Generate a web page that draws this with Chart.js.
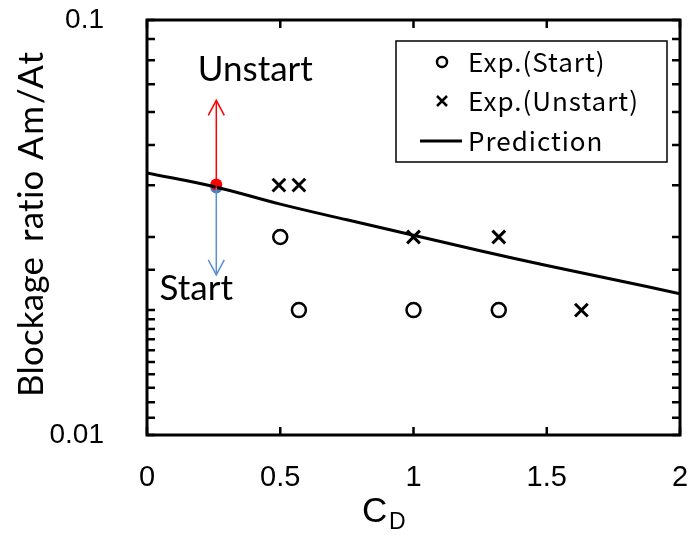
<!DOCTYPE html>
<html lang="en">
<head>
  <meta charset="UTF-8">
  <title>Blockage ratio vs CD</title>
  <style>
    body { margin: 0; padding: 0; background: #fff; }
    #wrap { width: 693px; height: 535px; }
  </style>
</head>
<body>
  <div id="wrap"><canvas id="myChart" width="693" height="535"></canvas></div>
  <script src="https://cdn.jsdelivr.net/npm/chart.js"></script>
  <script>
    // data
    var cdStart = [0.5, 0.57, 1.0, 1.32];
    var ratioStart = [0.03, 0.02, 0.02, 0.02];
    var cdUnstart = [0.495, 0.57, 1.0, 1.32, 1.63];
    var ratioUnstart = [0.04, 0.04, 0.03, 0.03, 0.02];
    var cdPred = [0, 0.25, 0.5, 0.75, 1, 1.25, 1.5, 1.75, 2];
    var ratioPred = [0.0428, 0.0397, 0.0360, 0.0330, 0.0303, 0.0278, 0.0256, 0.0237, 0.0219];
    var boundaryCd = [0.26];
    var boundaryRatio = [0.0395];
    var arrowUnstartTop = [0.064];
    var arrowStartBottom = [0.0243];
    var xTicks = [0, 0.5, 1, 1.5, 2];
    var legendLabels = ['Exp.(Start)', 'Exp.(Unstart)', 'Prediction'];
    var yTitleWords = ['Blockage', 'ratio', 'Am/At'];

    function pts(xs, ys) {
      return xs.map(function(x, i) { return { x: x, y: ys[i] }; });
    }

    var blue = '#4a7ebb';
    var arrowBlue = '#5b8fd0';
    var red = '#ff0000';

    var decorations = {
      id: 'decorations',
      afterDatasetsDraw: function(chart) {
        var c = chart.ctx, a = chart.chartArea;
        var xs = chart.scales.x, ys = chart.scales.y;
        c.save();
        // arrow heads
        function head(px, py, dir, color) {
          c.strokeStyle = color;
          c.lineWidth = 1.5;
          c.beginPath();
          c.moveTo(px - 8, py - dir * 15);
          c.lineTo(px, py);
          c.lineTo(px + 8, py - dir * 15);
          c.stroke();
        }
        var bx = xs.getPixelForValue(boundaryCd[0]);
        var topY = ys.getPixelForValue(arrowUnstartTop[0]);
        var botY = ys.getPixelForValue(arrowStartBottom[0]);
        head(bx, topY, -1, red);
        head(bx, botY, 1, arrowBlue);

        // annotation texts
        c.fillStyle = '#000';
        c.font = '35px Lato, "Open Sans", sans-serif';
        c.textAlign = 'center';
        c.textBaseline = 'alphabetic';
        c.fillText('Unstart', bx + 39, topY - 19);
        c.fillText('Start', bx - 20, botY + 25);

        // frame
        c.strokeStyle = '#000';
        c.lineWidth = 3;
        c.strokeRect(a.left, a.top, a.right - a.left, a.bottom - a.top);

        // inside ticks
        c.lineWidth = 2.5;
        c.beginPath();
        ys.ticks.forEach(function(t) {
          var py = ys.getPixelForValue(t.value);
          c.moveTo(a.left, py); c.lineTo(a.left + 8, py);
          c.moveTo(a.right, py); c.lineTo(a.right - 8, py);
        });
        xTicks.forEach(function(v) {
          var px = xs.getPixelForValue(v);
          c.moveTo(px, a.bottom); c.lineTo(px, a.bottom - 8);
          c.moveTo(px, a.top); c.lineTo(px, a.top + 8);
        });
        c.stroke();

        // legend
        var lx = 396, ly = 41, lw = 271, lh = 121;
        c.fillStyle = '#fff';
        c.fillRect(lx, ly, lw, lh);
        c.lineWidth = 1.5;
        c.strokeRect(lx, ly, lw, lh);
        var rows = [62, 101, 141];
        c.lineWidth = 2.5;
        c.beginPath();
        c.arc(442, rows[0], 5, 0, Math.PI * 2);
        c.stroke();
        c.beginPath();
        c.moveTo(437, rows[1] - 5); c.lineTo(447, rows[1] + 5);
        c.moveTo(447, rows[1] - 5); c.lineTo(437, rows[1] + 5);
        c.stroke();
        c.lineWidth = 3;
        c.beginPath();
        c.moveTo(420, rows[2]); c.lineTo(462, rows[2]);
        c.stroke();
        c.fillStyle = '#000';
        c.font = '26px "Noto Sans CJK JP", sans-serif';
        c.letterSpacing = '1px';
        c.textAlign = 'left';
        c.textBaseline = 'middle';
        legendLabels.forEach(function(t, i) {
          c.fillText(t, 468, rows[i]);
        });
        c.letterSpacing = '0px';

        // x axis title
        c.font = '35px Arial, "Liberation Sans", sans-serif';
        c.textAlign = 'left';
        c.textBaseline = 'alphabetic';
        c.fillText('C', 362, 522);
        c.font = '23px Arial, "Liberation Sans", sans-serif';
        c.fillText('D', 389, 529);

        // y axis title, each word stretched to the span it has in the original
        var starts = [397, 242, 160], ends = [257, 170, 52];
        c.translate(43, 0);
        c.rotate(-Math.PI / 2);
        c.font = '35px Lato, "Open Sans", sans-serif';
        c.textAlign = 'left';
        yTitleWords.forEach(function(w, i) {
          c.letterSpacing = '0px';
          var target = starts[i] - ends[i];
          var mw = c.measureText(w).width;
          var sp = Math.max(-2, Math.min(4, (target - mw) / (w.length - 1)));
          c.letterSpacing = sp.toFixed(2) + 'px';
          c.fillText(w, -starts[i], 0);
        });
        c.letterSpacing = '0px';
        c.restore();
      }
    };

    var ctx = document.getElementById('myChart').getContext('2d');
    var myChart = new Chart(ctx, {
      type: 'scatter',
      data: {
        datasets: [{
          label: 'Unstart arrow',
          type: 'line',
          data: pts([boundaryCd[0], boundaryCd[0]], [boundaryRatio[0], arrowUnstartTop[0]]),
          borderColor: red,
          borderWidth: 1.5,
          pointRadius: 0
        }, {
          label: 'Start arrow',
          type: 'line',
          data: pts([boundaryCd[0], boundaryCd[0]], [boundaryRatio[0], arrowStartBottom[0]]),
          borderColor: arrowBlue,
          borderWidth: 1.5,
          pointRadius: 0
        }, {
          label: 'Prediction',
          type: 'line',
          data: pts(cdPred, ratioPred),
          borderColor: '#000',
          borderWidth: 3,
          pointRadius: 0,
          tension: 0.4
        }, {
          label: 'Boundary (red)',
          data: pts(boundaryCd, [boundaryRatio[0] * 1.016]),
          pointRadius: 6,
          backgroundColor: red,
          borderColor: red,
          borderWidth: 0
        }, {
          label: 'Boundary (blue)',
          data: pts(boundaryCd, boundaryRatio),
          pointRadius: 6,
          backgroundColor: blue,
          borderColor: blue,
          borderWidth: 0
        }, {
          label: 'Exp.(Start)',
          data: pts(cdStart, ratioStart),
          pointStyle: 'circle',
          pointRadius: 7,
          backgroundColor: 'rgba(0,0,0,0)',
          borderColor: '#000',
          borderWidth: 2.5
        }, {
          label: 'Exp.(Unstart)',
          data: pts(cdUnstart, ratioUnstart),
          pointStyle: 'crossRot',
          pointRadius: 9,
          borderColor: '#000',
          borderWidth: 3
        }]
      },
      options: {
        responsive: false,
        animation: false,
        layout: { padding: { left: 0, right: 13, top: 20, bottom: 0 } },
        plugins: {
          legend: { display: false },
          tooltip: { enabled: false }
        },
        scales: {
          x: {
            type: 'linear',
            min: 0,
            max: 2,
            afterBuildTicks: function(scale) {
              scale.ticks = xTicks.map(function(v) { return { value: v }; });
            },
            afterFit: function(scale) {
              scale.height = 100;
              scale.paddingLeft = 0;
              scale.paddingRight = 0;
            },
            grid: { display: false },
            border: { display: false },
            ticks: {
              color: '#000',
              padding: 18,
              maxRotation: 0,
              font: { family: 'Arial, "Liberation Sans", sans-serif', size: 29 },
              callback: function(v) { return String(v); }
            }
          },
          y: {
            type: 'logarithmic',
            min: 0.01,
            max: 0.1,
            afterFit: function(scale) {
              scale.width = 147;
              scale.paddingTop = 0;
              scale.paddingBottom = 0;
            },
            grid: { display: false },
            border: { display: false },
            ticks: {
              color: '#000',
              padding: 35,
              autoSkip: false,
              font: { family: 'Arial, "Liberation Sans", sans-serif', size: 28 },
              callback: function(v) {
                var l = Math.log10(v);
                if (Math.abs(l - Math.round(l)) < 1e-6) return String(Number(v.toPrecision(3)));
                return '';
              }
            }
          }
        }
      },
      plugins: [decorations]
    });
  </script>
</body>
</html>
